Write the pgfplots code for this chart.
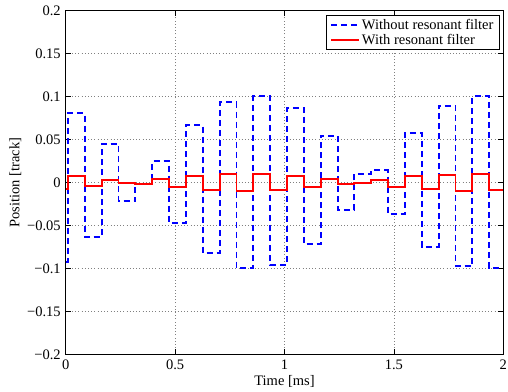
\documentclass[border=0pt]{standalone}
\usepackage{fontspec}
\setmainfont{Liberation Serif}
\usepackage{pgfplots}
\pgfplotsset{compat=1.18}
\definecolor{mblue}{RGB}{0,0,255}
\definecolor{mred}{RGB}{255,0,0}
\begin{document}
\fontsize{14.5}{17}\selectfont
\begin{tikzpicture}
\fill[white] (-65.7pt,-36.7pt) rectangle (442.3pt,354.3pt);
\begin{axis}[
  at={(0pt,0pt)}, anchor=south west,
  scale only axis, width=437.6pt, height=343.6pt,
  xmin=0, xmax=2, ymin=-0.2, ymax=0.2,
  xtick={0,0.5,1,1.5,2}, xticklabels={0,0.5,1,1.5,2},
  ytick={-0.2,-0.15,-0.1,-0.05,0,0.05,0.1,0.15,0.2},
  yticklabels={−0.2,−0.15,−0.1,−0.05,0,0.05,0.1,0.15,0.2},
  tick align=inside, major tick length=5pt,
  tick style={black, line width=0.6pt},
  grid=major,
  major grid style={black!50, line width=0.6pt, dash pattern=on 0.8pt off 2.4pt},
  axis line style={black, line width=0.9pt},
  ticklabel style={font=\fontsize{14.5}{17}\selectfont},
  xticklabel style={yshift=-1pt},
  xlabel={Time [ms]}, ylabel={Position [track]},
  label style={font=\fontsize{14.5}{17}\selectfont},
  xlabel style={yshift=5pt},
  ylabel style={yshift=-4pt},
  legend style={at={(0.991,0.987)}, anchor=north east, draw=black, line width=0.8pt,
    inner xsep=3.5pt, inner ysep=1.5pt, row sep=-1.5pt, font=\fontsize{14.5}{16}\selectfont, cells={anchor=west}},
  legend image code/.code={\draw[#1] (0pt,0pt) -- (28pt,0pt);},
]
\addplot[draw=mblue, line width=1.9pt, dash pattern=on 6pt off 4pt, const plot] coordinates {
(0,-0.0922) (0.0105,0.0806) (0.0875,-0.0634) (0.1645,0.0448) (0.2415,-0.0215)
(0.3185,-0.0015) (0.3955,0.025) (0.4725,-0.0468) (0.5495,0.0669) (0.6265,-0.0817)
(0.7035,0.0937) (0.7805,-0.0992) (0.8575,0.1005) (0.9345,-0.096) (1.0115,0.087)
(1.0885,-0.0716) (1.1655,0.0545) (1.2425,-0.032) (1.3195,0.0099) (1.3965,0.0142)
(1.4735,-0.0363) (1.5505,0.058) (1.6275,-0.0747) (1.7045,0.0894) (1.7815,-0.0972)
(1.8585,0.1005) (1.9355,-0.0992) (2,-0.0992)
};
\addlegendentry{Without resonant filter}
\addplot[draw=mred, line width=1.9pt, const plot] coordinates {
(0,-0.0079) (0.0105,0.0076) (0.0875,-0.0045) (0.1645,0.0033) (0.2415,-0.0006)
(0.3185,-0.0014) (0.3955,0.0045) (0.4725,-0.0052) (0.5495,0.0080) (0.6265,-0.0083)
(0.7035,0.0103) (0.7805,-0.0099) (0.8575,0.0103) (0.9345,-0.0087) (1.0115,0.0080)
(1.0885,-0.0056) (1.1655,0.0045) (1.2425,-0.0017) (1.3195,-0.0002) (1.3965,0.0029)
(1.4735,-0.0048) (1.5505,0.0076) (1.6275,-0.0079) (1.7045,0.0091) (1.7815,-0.0099)
(1.8585,0.0103) (1.9355,-0.0091) (2,-0.0091)
};
\addlegendentry{With resonant filter}
\end{axis}
\pgfresetboundingbox
\useasboundingbox (-65.7pt,-36.7pt) rectangle (442.3pt,354.3pt);
\end{tikzpicture}
\end{document}
